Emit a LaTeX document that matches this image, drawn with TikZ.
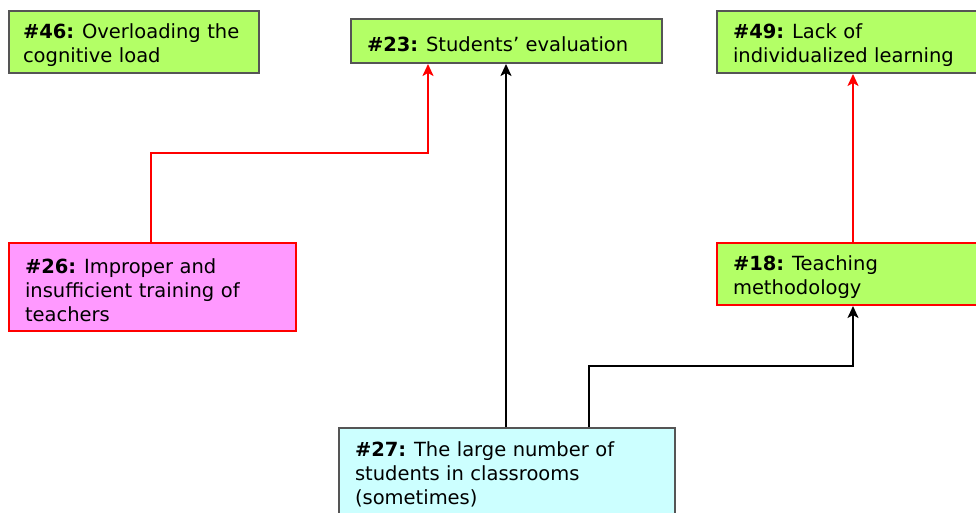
\documentclass[tikz,border=0pt]{standalone}
\usepackage{fontspec}
\setmainfont{DejaVu Sans}
\usetikzlibrary{arrows.meta}
\definecolor{boxgreen}{RGB}{179,255,102}
\definecolor{boxpink}{RGB}{255,153,255}
\definecolor{boxcyan}{RGB}{204,255,255}
\definecolor{boxgray}{RGB}{85,85,85}
\definecolor{linkred}{RGB}{255,0,0}
\tikzset{
  factor/.style={draw=boxgray, line width=2pt, rectangle, anchor=north west,
    inner xsep=0pt, inner ysep=0pt, align=left,
    font=\fontsize{19.5pt}{24pt}\selectfont},
  redbox/.style={draw=linkred},
  link/.style={line width=2pt, -{Stealth[length=12pt,width=11pt,inset=3pt]}},
  redlink/.style={link, draw=linkred, color=linkred},
}
% factor label: bold number, with a strut that lowers the text block a little
\newcommand{\fid}[1]{\rule{0pt}{21pt}\textbf{\##1:}\hspace{-0.1em}}
\begin{document}
\begin{tikzpicture}[x=1pt,y=-1pt]
\useasboundingbox (0,0) rectangle (976,513);
% factor boxes (width, height in px)
\node[factor, fill=boxgreen, minimum width=250pt, minimum height=62pt, text width=222pt]
  (n46) at (8,10) {\fid{46} Overloading the\\cognitive load};
\node[factor, fill=boxgreen, minimum width=311pt, minimum height=44pt, text width=279pt]
  (n23) at (350,18) {\fid{23} Students’ evaluation};
\node[factor, fill=boxgreen, minimum width=280pt, minimum height=62pt, text width=248pt]
  (n49) at (716,10) {\fid{49} Lack of\\individualized learning};
\node[factor, redbox, fill=boxpink, minimum width=287pt, minimum height=88pt, text width=255pt]
  (n26) at (8,242) {\fid{26} Improper and\\insufficient training of\\teachers};
\node[factor, redbox, fill=boxgreen, minimum width=280pt, minimum height=62pt, text width=248pt]
  (n18) at (716,242) {\fid{18} Teaching\\methodology};
\node[factor, fill=boxcyan, minimum width=336pt, minimum height=86pt, text width=304pt]
  (n27) at (338,427) {\fid{27} The large number of\\students in classrooms\\(sometimes)};
% bend points of the elbow connectors
\coordinate (b26) at (151,153);
\coordinate (b26b) at (428,153);
\coordinate (b27) at (589,366);
\coordinate (b27b) at (853,366);
% connectors
\draw[redlink] (n26.north -| b26) -- (b26) -- (b26b) -- (n23.south -| b26b);
\draw[link] (n27.north -| 506,0) -- (n23.south -| 506,0);
\draw[link] (n27.north -| b27) -- (b27) -- (b27b) -- (n18.south -| b27b);
\draw[redlink] (n18.north -| b27b) -- (n49.south -| b27b);
\end{tikzpicture}
\end{document}
